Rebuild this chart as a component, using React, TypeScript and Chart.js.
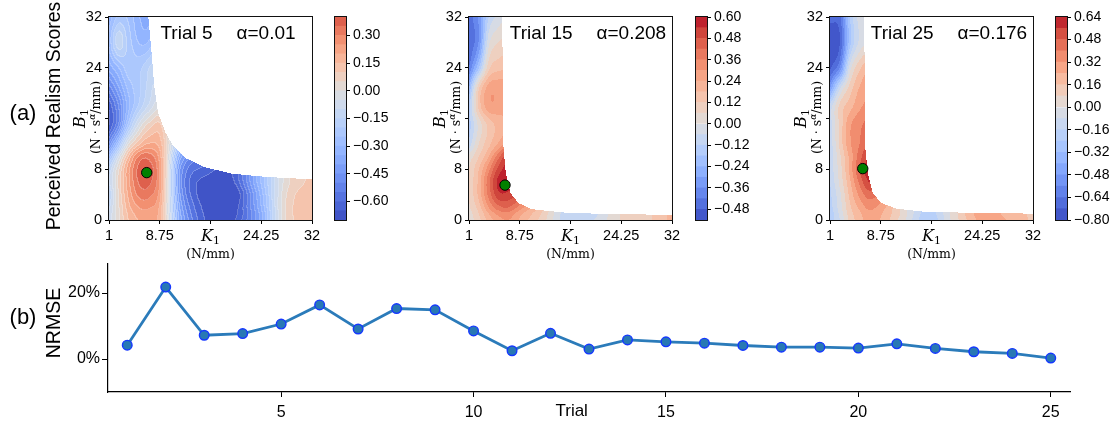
import React, { useEffect, useRef } from 'react';
import { Chart, registerables } from 'chart.js';

Chart.register(...registerables);

const SANS = '"Liberation Sans", Arial, Helvetica, sans-serif';
const SERIF = '"DejaVu Serif", serif';

// ---------------- (b) NRMSE per trial ----------------
const TRIALS = [1, 2, 3, 4, 5, 6, 7, 8, 9, 10, 11, 12, 13, 14, 15, 16, 17, 18, 19, 20, 21, 22, 23, 24, 25];
const NRMSE = [4.2, 21.8, 7.2, 7.7, 10.6, 16.4, 9.1, 15.3, 14.9, 8.5, 2.5, 7.8, 3.0, 5.8, 5.2, 4.8, 4.1, 3.6, 3.6, 3.3, 4.6, 3.2, 2.2, 1.7, 0.3];
const NRMSE_X_TICKS = [5, 10, 15, 20, 25];
const NRMSE_Y_TICKS = [0, 20];

// ---------------- (a) perceived realism score fields ----------------
const K_NODES = [1, 2.5, 4, 5.5, 7, 9, 12, 16, 20, 24, 28, 32];
const B_NODES_DESC = [32, 28, 24, 21, 18, 15, 12, 10, 8, 6, 4, 2, 1, 0];
const K_TICKS = [1, 8.75, 16.5, 24.25, 32];
const K_TICK_LABELS = ['1', '8.75', '', '24.25', '32'];
const B_TICKS = [0, 8, 16, 24, 32];
const B_TICK_LABELS = ['0', '8', '', '24', '32'];

// rows: B = 32 ... 0 ; cols: K_NODES
const FIELD_T5 = [
  [-0.34, -0.24, -0.26, -0.34, -0.38, -0.20, -0.10, -0.10, -0.10, -0.10, -0.10, -0.10],
  [-0.30, -0.12, -0.22, -0.30, -0.30, -0.15, -0.10, -0.10, -0.10, -0.10, -0.10, -0.10],
  [-0.38, -0.30, -0.22, -0.22, -0.16, -0.08, -0.15, -0.20, -0.20, -0.20, -0.10, -0.10],
  [-0.52, -0.40, -0.28, -0.22, -0.14, -0.06, -0.20, -0.30, -0.30, -0.20, -0.05, 0.00],
  [-0.64, -0.50, -0.32, -0.20, -0.10, -0.02, -0.25, -0.40, -0.40, -0.25, 0.00, 0.05],
  [-0.66, -0.50, -0.24, -0.05, 0.06, 0.10, -0.25, -0.50, -0.50, -0.30, 0.00, 0.08],
  [-0.50, -0.26, 0.00, 0.13, 0.20, 0.16, -0.25, -0.55, -0.58, -0.32, 0.02, 0.10],
  [-0.30, -0.06, 0.15, 0.30, 0.33, 0.20, -0.38, -0.58, -0.62, -0.32, 0.02, 0.12],
  [-0.15, 0.04, 0.23, 0.36, 0.39, 0.22, -0.46, -0.62, -0.64, -0.32, 0.02, 0.12],
  [-0.12, 0.06, 0.23, 0.35, 0.37, 0.22, -0.48, -0.68, -0.66, -0.32, 0.02, 0.12],
  [-0.16, 0.05, 0.21, 0.31, 0.32, 0.20, -0.46, -0.70, -0.72, -0.36, 0.04, 0.14],
  [-0.12, 0.04, 0.18, 0.25, 0.26, 0.17, -0.42, -0.68, -0.69, -0.38, 0.05, 0.14],
  [-0.10, 0.04, 0.16, 0.22, 0.23, 0.16, -0.40, -0.67, -0.68, -0.40, 0.05, 0.13],
  [-0.08, 0.04, 0.15, 0.20, 0.21, 0.16, -0.38, -0.66, -0.66, -0.40, 0.05, 0.12],
];
const FIELD_T15 = [
  [-0.45, -0.35, -0.12, -0.04, 0.00, 0.00, 0.00, -0.10, -0.08, 0.06, 0.10, 0.20],
  [-0.48, -0.35, -0.02, 0.06, 0.08, 0.05, 0.00, -0.10, -0.08, 0.06, 0.10, 0.20],
  [-0.42, -0.18, 0.10, 0.16, 0.16, 0.10, 0.00, -0.10, -0.08, 0.06, 0.10, 0.20],
  [-0.25, 0.10, 0.26, 0.28, 0.26, 0.15, 0.05, -0.10, -0.08, 0.06, 0.10, 0.20],
  [-0.14, 0.14, 0.28, 0.28, 0.26, 0.15, 0.05, -0.10, -0.08, 0.06, 0.10, 0.20],
  [-0.15, 0.02, 0.14, 0.20, 0.22, 0.15, 0.05, -0.10, -0.08, 0.06, 0.10, 0.20],
  [-0.10, 0.06, 0.16, 0.25, 0.32, 0.25, 0.08, -0.10, -0.08, 0.06, 0.10, 0.20],
  [0.02, 0.12, 0.24, 0.40, 0.52, 0.40, 0.10, -0.10, -0.08, 0.06, 0.10, 0.20],
  [0.06, 0.18, 0.34, 0.50, 0.56, 0.45, 0.12, -0.10, -0.08, 0.06, 0.10, 0.20],
  [0.06, 0.20, 0.40, 0.56, 0.58, 0.50, 0.15, -0.10, -0.08, 0.06, 0.10, 0.20],
  [0.06, 0.20, 0.38, 0.52, 0.52, 0.45, 0.15, -0.10, -0.08, 0.06, 0.10, 0.20],
  [0.05, 0.15, 0.30, 0.40, 0.42, 0.32, 0.15, -0.10, -0.08, 0.06, 0.10, 0.20],
  [0.03, 0.12, 0.24, 0.32, 0.34, 0.25, 0.12, -0.10, -0.08, 0.06, 0.10, 0.20],
  [0.02, 0.10, 0.20, 0.27, 0.30, 0.22, 0.10, -0.10, -0.06, 0.06, 0.10, 0.20],
];
const FIELD_T25 = [
  [-0.70, -0.66, -0.25, -0.05, -0.04, 0.00, 0.06, -0.20, 0.05, 0.28, 0.22, 0.14],
  [-0.78, -0.72, -0.28, -0.06, 0.00, 0.00, 0.06, -0.20, 0.05, 0.28, 0.22, 0.14],
  [-0.74, -0.55, -0.05, 0.14, 0.22, 0.15, 0.06, -0.20, 0.05, 0.28, 0.22, 0.14],
  [-0.50, -0.12, 0.10, 0.24, 0.30, 0.20, 0.06, -0.20, 0.05, 0.28, 0.22, 0.14],
  [-0.14, 0.10, 0.20, 0.30, 0.34, 0.25, 0.06, -0.20, 0.05, 0.28, 0.22, 0.14],
  [-0.12, 0.10, 0.30, 0.38, 0.42, 0.30, 0.08, -0.20, 0.05, 0.28, 0.22, 0.14],
  [-0.14, 0.10, 0.30, 0.40, 0.48, 0.35, 0.10, -0.20, 0.05, 0.28, 0.22, 0.14],
  [-0.15, 0.06, 0.26, 0.44, 0.56, 0.45, 0.10, -0.20, 0.05, 0.28, 0.22, 0.14],
  [-0.14, 0.04, 0.26, 0.48, 0.60, 0.50, 0.10, -0.20, 0.05, 0.28, 0.22, 0.14],
  [-0.16, 0.02, 0.22, 0.42, 0.56, 0.45, 0.10, -0.20, 0.05, 0.28, 0.22, 0.14],
  [-0.18, -0.02, 0.18, 0.34, 0.44, 0.36, 0.10, -0.20, 0.05, 0.28, 0.22, 0.14],
  [-0.20, -0.04, 0.14, 0.26, 0.34, 0.27, 0.06, -0.20, 0.05, 0.28, 0.22, 0.14],
  [-0.22, -0.06, 0.12, 0.22, 0.30, 0.24, 0.06, -0.20, 0.05, 0.28, 0.22, 0.14],
  [-0.22, -0.08, 0.10, 0.20, 0.28, 0.22, 0.04, -0.22, 0.04, 0.26, 0.24, 0.14],
];

// feasible-region boundaries [K, B_max]
const BOUND_T5 = [[7.0, 32], [7.5, 26.4], [7.9, 21.2], [8.5, 16.9], [9.6, 13.8], [10.8, 11.7], [12.6, 9.8], [15.7, 8.3], [19.8, 7.3], [24.9, 6.8], [32, 6.4]];
const BOUND_T15 = [[6.1, 32], [6.15, 17], [6.25, 11.7], [6.6, 7.5], [7.3, 4.3], [8.5, 2.7], [10.6, 1.7], [15.7, 1.16], [23.3, 0.9], [32, 0.84]];
const BOUND_T25 = [[6.25, 32], [6.3, 17], [6.35, 11.7], [6.76, 7.5], [7.5, 4.3], [8.8, 2.7], [11.1, 1.8], [15.7, 1.26], [32, 1.0]];

const BEST_T5 = [6.76, 7.47];
const BEST_T15 = [6.5, 5.5];
const BEST_T25 = [6.0, 8.1];

const TITLES = ['Trial 5', 'Trial 15', 'Trial 25'];
const ALPHAS = ['α=0.01', 'α=0.208', 'α=0.176'];

const LEVELS_T5 = [-0.70, 0.40, 0.05];
const LEVELS_T15 = [-0.54, 0.60, 0.06];
const LEVELS_T25 = [-0.80, 0.64, 0.08];
const CB_TICKS_T5 = [0.30, 0.15, 0.00, -0.15, -0.30, -0.45, -0.60];
const CB_TICKS_T15 = [0.60, 0.48, 0.36, 0.24, 0.12, 0.00, -0.12, -0.24, -0.36, -0.48];
const CB_TICKS_T25 = [0.64, 0.48, 0.32, 0.16, 0.00, -0.16, -0.32, -0.48, -0.64, -0.80];

// ---------------- styling / layout ----------------
const NORMS = [[0.70, 0.50], [0.54, 0.60], [0.80, 0.64]];
const PLOT_LEFTS = [109, 469, 830];
const BAR_LEFTS = [335, 696, 1056];

const COOLWARM = [[59,76,192],[68,90,204],[77,104,215],[87,117,225],[98,130,234],[108,142,241],[119,154,247],[130,165,251],[141,176,254],[152,185,255],[163,194,255],[174,201,253],[184,208,249],[194,213,244],[204,217,238],[213,219,230],[221,221,221],[229,216,209],[236,211,197],[241,204,185],[245,196,173],[247,187,160],[247,177,148],[247,166,135],[244,154,123],[241,141,111],[236,127,99],[229,112,88],[222,96,77],[213,80,66],[203,62,56],[192,40,47],[180,4,38]];

function cmap(t: number): number[] {
  const tt = Math.max(0, Math.min(1, t));
  const f = tt * 32;
  const i = Math.min(31, Math.floor(f));
  const u = f - i;
  const a = COOLWARM[i], b = COOLWARM[i + 1];
  return [0, 1, 2].map((c) => Math.round(a[c] + (b[c] - a[c]) * u));
}

type Panel = {
  title: string; alpha: string; grid: number[][]; bound: number[][]; best: number[];
  levels: number[]; cbTicks: number[]; norm: number[]; lines: boolean; plotLeft: number; barLeft: number;
};

const PANELS: Panel[] = [
  { title: TITLES[0], alpha: ALPHAS[0], grid: FIELD_T5, bound: BOUND_T5, best: BEST_T5, levels: LEVELS_T5, cbTicks: CB_TICKS_T5, norm: NORMS[0], lines: true, plotLeft: PLOT_LEFTS[0], barLeft: BAR_LEFTS[0] },
  { title: TITLES[1], alpha: ALPHAS[1], grid: FIELD_T15, bound: BOUND_T15, best: BEST_T15, levels: LEVELS_T15, cbTicks: CB_TICKS_T15, norm: NORMS[1], lines: false, plotLeft: PLOT_LEFTS[1], barLeft: BAR_LEFTS[1] },
  { title: TITLES[2], alpha: ALPHAS[2], grid: FIELD_T25, bound: BOUND_T25, best: BEST_T25, levels: LEVELS_T25, cbTicks: CB_TICKS_T25, norm: NORMS[2], lines: false, plotLeft: PLOT_LEFTS[2], barLeft: BAR_LEFTS[2] },
];

function nBands(p: Panel) { return Math.round((p.levels[1] - p.levels[0]) / p.levels[2]); }
function bandColor(p: Panel, k: number): number[] {
  const mid = p.levels[0] + (k + 0.5) * p.levels[2];
  const t = mid >= 0 ? 0.5 + 0.5 * mid / p.norm[1] : 0.5 + 0.5 * mid / p.norm[0];
  return cmap(t);
}
function rgb(c: number[]) { return `rgb(${c[0]},${c[1]},${c[2]})`; }

function hermite(xs: number[], vs: number[], x: number): number {
  const n = xs.length;
  if (x <= xs[0]) return vs[0];
  if (x >= xs[n - 1]) return vs[n - 1];
  let i = 0;
  while (x > xs[i + 1]) i++;
  const h = xs[i + 1] - xs[i];
  const t = (x - xs[i]) / h;
  const m = (k: number) =>
    k === 0 ? (vs[1] - vs[0]) / (xs[1] - xs[0])
      : k === n - 1 ? (vs[n - 1] - vs[n - 2]) / (xs[n - 1] - xs[n - 2])
        : (vs[k + 1] - vs[k - 1]) / (xs[k + 1] - xs[k - 1]);
  const t2 = t * t, t3 = t2 * t;
  return (2 * t3 - 3 * t2 + 1) * vs[i] + (t3 - 2 * t2 + t) * h * m(i) + (-2 * t3 + 3 * t2) * vs[i + 1] + (t3 - t2) * h * m(i + 1);
}

function bmax(bound: number[][], K: number): number {
  if (K <= bound[0][0]) return Infinity;
  for (let i = 0; i < bound.length - 1; i++) {
    const [k0, b0] = bound[i];
    const [k1, b1] = bound[i + 1];
    if (K <= k1) return b0 + (b1 - b0) * (K - k0) / (k1 - k0);
  }
  return bound[bound.length - 1][1];
}

type Part = { text: string; font: string; dy?: number };
function drawRich(ctx: CanvasRenderingContext2D, parts: Part[], cx: number, cy: number, rotate: boolean) {
  ctx.save();
  ctx.translate(cx, cy);
  if (rotate) ctx.rotate(-Math.PI / 2);
  ctx.textBaseline = 'middle';
  ctx.textAlign = 'left';
  ctx.fillStyle = '#000';
  let total = 0;
  for (const p of parts) { ctx.font = p.font; total += ctx.measureText(p.text).width; }
  let x = -total / 2;
  for (const p of parts) {
    ctx.font = p.font;
    ctx.fillText(p.text, x, p.dy || 0);
    x += ctx.measureText(p.text).width;
  }
  ctx.restore();
}

function fieldPlugin(p: Panel) {
  const B_ASC = B_NODES_DESC.slice().reverse();
  const gridAsc = p.grid.slice().reverse();
  return {
    id: 'field',
    beforeDatasetsDraw(chart: any) {
      const { ctx, chartArea: ca } = chart;
      const xs = chart.scales.x, ys = chart.scales.y;
      const x0 = Math.round(ca.left), y0 = Math.round(ca.top);
      const w = Math.round(ca.right) - x0, h = Math.round(ca.bottom) - y0;
      const nb = nBands(p);
      const band = new Int16Array(w * h);
      const Bv: number[] = [];
      for (let py = 0; py < h; py++) Bv.push(ys.getValueForPixel(y0 + py + 0.5));
      const colVals = new Array(B_ASC.length);
      for (let px = 0; px < w; px++) {
        const K = xs.getValueForPixel(x0 + px + 0.5);
        for (let r = 0; r < B_ASC.length; r++) colVals[r] = hermite(K_NODES, gridAsc[r], K);
        const bm = bmax(p.bound, K);
        for (let py = 0; py < h; py++) {
          const B = Bv[py];
          if (B > bm) { band[py * w + px] = -1; continue; }
          const v = hermite(B_ASC, colVals, B);
          let k = Math.floor((v - p.levels[0]) / p.levels[2]);
          k = Math.max(0, Math.min(nb - 1, k));
          band[py * w + px] = k;
        }
      }
      const cols: number[][] = [];
      for (let k = 0; k < nb; k++) cols.push(bandColor(p, k));
      const off = document.createElement('canvas');
      off.width = w; off.height = h;
      const octx = off.getContext('2d')!;
      const img = octx.createImageData(w, h);
      const d = img.data;
      for (let py = 0; py < h; py++) {
        for (let px = 0; px < w; px++) {
          const i = py * w + px;
          const k = band[i];
          if (k < 0) { d[i * 4 + 3] = 0; continue; }
          let c = cols[k];
          if (p.lines) {
            const kr = px < w - 1 ? band[i + 1] : -1;
            const kd = py < h - 1 ? band[i + w] : -1;
            if ((kr >= 0 && kr !== k) || (kd >= 0 && kd !== k)) {
              c = c.map((v) => Math.round(v + (255 - v) * 0.22));
            }
          }
          d[i * 4] = c[0]; d[i * 4 + 1] = c[1]; d[i * 4 + 2] = c[2]; d[i * 4 + 3] = 255;
        }
      }
      octx.putImageData(img, 0, 0);
      ctx.drawImage(off, x0, y0);
    },
    afterDatasetsDraw(chart: any) {
      const { ctx, chartArea: ca } = chart;
      const x0 = Math.round(ca.left), y0 = Math.round(ca.top);
      const w = Math.round(ca.right) - x0, h = Math.round(ca.bottom) - y0;
      ctx.save();
      ctx.strokeStyle = '#111';
      ctx.lineWidth = 1;
      ctx.strokeRect(x0 - 0.5, y0 - 0.5, w + 1, h + 1);
      ctx.font = `19px ${SANS}`;
      ctx.fillStyle = '#000';
      ctx.textBaseline = 'alphabetic';
      ctx.textAlign = 'left';
      const gap = 24;
      const w1 = ctx.measureText(p.title).width;
      const w2 = ctx.measureText(p.alpha).width;
      const start = ca.left + 119 - (w1 + gap + w2) / 2;
      ctx.fillText(p.title, start, ca.top + 21.5);
      ctx.fillText(p.alpha, start + w1 + gap, ca.top + 21.5);
      ctx.restore();
      const cy = (ca.top + ca.bottom) / 2;
      const cx = (ca.left + ca.right) / 2;
      drawRich(ctx, [
        { text: 'B', font: `italic 16px ${SERIF}` },
        { text: '1', font: `11px ${SERIF}`, dy: 4 },
      ], ca.left - 28, cy, true);
      drawRich(ctx, [
        { text: '(N · s', font: `12.5px ${SERIF}` },
        { text: 'α', font: `italic 9px ${SERIF}`, dy: -4 },
        { text: '/mm)', font: `12.5px ${SERIF}` },
      ], ca.left - 12, cy - 1, true);
      drawRich(ctx, [
        { text: 'K', font: `italic 16px ${SERIF}` },
        { text: '1', font: `11px ${SERIF}`, dy: 4 },
      ], cx, ca.bottom + 17, false);
      drawRich(ctx, [{ text: '(N/mm)', font: `12.5px ${SERIF}` }], cx, ca.bottom + 35, false);
    },
  };
}

function makeContour(canvas: HTMLCanvasElement, p: Panel) {
  return new Chart(canvas, {
    type: 'scatter',
    data: {
      datasets: [{
        data: [{ x: p.best[0], y: p.best[1] }],
        pointRadius: 5.2,
        pointBackgroundColor: '#008000',
        pointBorderColor: '#000',
        pointBorderWidth: 1,
      }],
    },
    options: {
      animation: false,
      responsive: false,
      maintainAspectRatio: false,
      layout: { padding: { left: 0, top: 17, right: 18, bottom: 10 } },
      plugins: { legend: { display: false }, tooltip: { enabled: false } },
      scales: {
        x: {
          type: 'linear', min: 1, max: 32,
          afterBuildTicks: (s: any) => { s.ticks = K_TICKS.map((v) => ({ value: v })); },
          afterFit: (s: any) => { s.height = 40; },
          ticks: {
            autoSkip: false, maxRotation: 0, padding: 3, color: '#000',
            font: { family: SANS, size: 14.5 },
            callback: (v: any) => { const i = K_TICKS.indexOf(Number(v)); return i >= 0 ? K_TICK_LABELS[i] : ''; },
          },
          grid: { drawOnChartArea: false, drawTicks: true, tickLength: 4, color: '#000' },
          border: { display: false },
        },
        y: {
          type: 'linear', min: 0, max: 32,
          afterBuildTicks: (s: any) => { s.ticks = B_TICKS.map((v) => ({ value: v })); },
          afterFit: (s: any) => { s.width = 59; },
          ticks: {
            autoSkip: false, padding: 3, color: '#000',
            font: { family: SANS, size: 14.5 },
            callback: (v: any) => { const i = B_TICKS.indexOf(Number(v)); return i >= 0 ? B_TICK_LABELS[i] : ''; },
          },
          grid: { drawOnChartArea: false, drawTicks: true, tickLength: 4, color: '#000' },
          border: { display: false },
        },
      },
    } as any,
    plugins: [fieldPlugin(p)],
  });
}

function makeColorbar(canvas: HTMLCanvasElement, p: Panel) {
  const nb = nBands(p);
  const datasets = [];
  for (let k = 0; k < nb; k++) {
    const lo = p.levels[0] + k * p.levels[2];
    datasets.push({
      data: [[lo, lo + p.levels[2]]],
      backgroundColor: rgb(bandColor(p, k)),
      borderWidth: 0,
      grouped: false,
      barPercentage: 1,
      categoryPercentage: 1,
    });
  }
  return new Chart(canvas, {
    type: 'bar',
    data: { labels: [''], datasets },
    options: {
      animation: false,
      responsive: false,
      maintainAspectRatio: false,
      layout: { padding: { left: 5, top: 17, right: 0, bottom: 20 } },
      plugins: { legend: { display: false }, tooltip: { enabled: false } },
      scales: {
        x: { display: false },
        y: {
          type: 'linear', position: 'right', min: p.levels[0], max: p.levels[1],
          afterBuildTicks: (s: any) => { s.ticks = p.cbTicks.map((v) => ({ value: v })); },
          afterFit: (s: any) => { s.width = 46; },
          ticks: {
            autoSkip: false, padding: 3, color: '#000',
            font: { family: SANS, size: 14 },
            callback: (v: any) => { const n = Number(v); const s = Math.abs(n).toFixed(2); return n < -1e-9 ? '−' + s : s; },
          },
          grid: { drawOnChartArea: false, drawTicks: true, tickLength: 4, color: '#000' },
          border: { display: false },
        },
      },
    } as any,
    plugins: [{
      id: 'cbframe',
      afterDatasetsDraw(chart: any) {
        const { ctx, chartArea: ca } = chart;
        ctx.save();
        ctx.strokeStyle = '#111';
        ctx.lineWidth = 1;
        const x0 = Math.round(ca.left), y0 = Math.round(ca.top);
        ctx.strokeRect(x0 - 0.5, y0 - 0.5, Math.round(ca.right) - x0 + 1, Math.round(ca.bottom) - y0 + 1);
        ctx.restore();
      },
    }],
  });
}

function makeLine(canvas: HTMLCanvasElement) {
  return new Chart(canvas, {
    type: 'line',
    data: {
      datasets: [{
        data: TRIALS.map((t, i) => ({ x: t, y: NRMSE[i] })),
        borderColor: '#2b7bba',
        borderWidth: 2.8,
        pointRadius: 4.8,
        pointBackgroundColor: '#2878b4',
        pointBorderColor: '#1537ff',
        pointBorderWidth: 1.4,
        tension: 0,
      }],
    },
    options: {
      animation: false,
      responsive: false,
      maintainAspectRatio: false,
      layout: { padding: { left: 0, top: 264, right: 44, bottom: 0 } },
      plugins: { legend: { display: false }, tooltip: { enabled: false } },
      scales: {
        x: {
          type: 'linear', min: 0.5, max: 25.5,
          afterBuildTicks: (s: any) => { s.ticks = NRMSE_X_TICKS.map((v) => ({ value: v })); },
          afterFit: (s: any) => { s.height = 34; },
          ticks: { autoSkip: false, maxRotation: 0, padding: 6, color: '#000', font: { family: SANS, size: 16 }, callback: (v: any) => String(v) },
          grid: { drawOnChartArea: false, drawTicks: true, tickLength: 5, color: '#000' },
          border: { display: true, color: '#000', width: 1.2 },
        },
        y: {
          type: 'linear', min: -10, max: 28.8,
          afterBuildTicks: (s: any) => { s.ticks = NRMSE_Y_TICKS.map((v) => ({ value: v })); },
          afterFit: (s: any) => { s.width = 108; },
          ticks: { autoSkip: false, padding: 2, color: '#000', font: { family: SANS, size: 16 }, callback: (v: any) => `${v}%` },
          grid: { drawOnChartArea: false, drawTicks: true, tickLength: 6, color: '#000' },
          border: { display: true, color: '#000', width: 1.2 },
        },
      },
    } as any,
    plugins: [{
      id: 'globalText',
      afterDraw(chart: any) {
        const { ctx, chartArea: ca } = chart;
        const xs = chart.scales.x;
        ctx.save();
        ctx.fillStyle = '#000';
        ctx.font = `17px ${SANS}`;
        ctx.textAlign = 'center';
        ctx.textBaseline = 'top';
        ctx.fillText('Trial', xs.getPixelForValue(12.55), ca.bottom + 10.5);
        ctx.restore();
        drawRich(ctx, [{ text: 'NRMSE', font: `19.5px ${SANS}` }], 55, 323, true);
        drawRich(ctx, [{ text: 'Perceived Realism Scores', font: `19.5px ${SANS}` }], 55, 116, true);
        drawRich(ctx, [{ text: '(a)', font: `22px ${SANS}` }], 23, 114, false);
        drawRich(ctx, [{ text: '(b)', font: `22px ${SANS}` }], 23, 318, false);
      },
    }],
  });
}

export default function App() {
  const lineRef = useRef<HTMLCanvasElement>(null);
  const c0 = useRef<HTMLCanvasElement>(null);
  const c1 = useRef<HTMLCanvasElement>(null);
  const c2 = useRef<HTMLCanvasElement>(null);
  const b0 = useRef<HTMLCanvasElement>(null);
  const b1 = useRef<HTMLCanvasElement>(null);
  const b2 = useRef<HTMLCanvasElement>(null);
  const cRefs = [c0, c1, c2];
  const bRefs = [b0, b1, b2];

  useEffect(() => {
    const charts: Chart[] = [];
    charts.push(makeLine(lineRef.current!));
    PANELS.forEach((p, i) => {
      charts.push(makeContour(cRefs[i].current!, p));
      charts.push(makeColorbar(bRefs[i].current!, p));
    });
    return () => charts.forEach((c) => c.destroy());
  }, []);

  return (
    <div style={{ position: 'absolute', left: 0, top: 0, width: 1114, height: 426, background: '#fff', overflow: 'hidden' }}>
      <canvas ref={lineRef} width={1114} height={426} style={{ position: 'absolute', left: 0, top: 0 }} />
      {PANELS.map((p, i) => (
        <canvas key={'c' + i} ref={cRefs[i]} width={280} height={270}
          style={{ position: 'absolute', left: p.plotLeft - 59, top: 0 }} />
      ))}
      {PANELS.map((p, i) => (
        <canvas key={'b' + i} ref={bRefs[i]} width={62} height={240}
          style={{ position: 'absolute', left: p.barLeft - 5, top: 0 }} />
      ))}
    </div>
  );
}
